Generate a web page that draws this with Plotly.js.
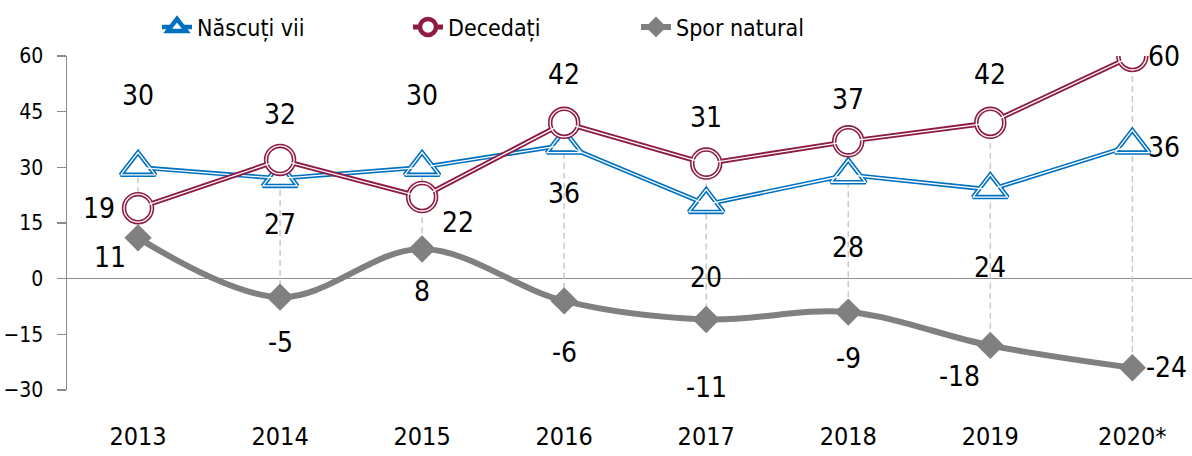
<!DOCTYPE html>
<html><head><meta charset="utf-8">
<script src="https://cdn.plot.ly/plotly-3.0.1.min.js"></script>
<style>html,body{margin:0;padding:0;background:#fff}#chart{width:1192px;height:456px}</style>
</head><body><div id="chart"></div>
<script>
// ---- data ----
const categories = ['2013','2014','2015','2016','2017','2018','2019','2020*'];
const nascuti = [30, 27, 30, 36, 20, 28, 24, 36];
const decedati = [19, 32, 22, 42, 31, 37, 42, 60];
const spor = [11, -5, 8, -6, -11, -9, -18, -24];
const yTickVals = [-30, -15, 0, 15, 30, 45, 60];
const seriesNames = ['Născuți vii', 'Decedați', 'Spor natural'];

// ---- styling ----
const FONT = '"DejaVu Sans Condensed", "Liberation Sans Narrow", "Roboto", sans-serif';
const BLUE = '#0070C0', RED = '#8E1B45', GRAY = '#808080';
// label offsets (pixels) per point
const offN = [[0,72],[0,-46],[0,72],[0,-48],[0,-73],[0,-73],[0,-78],[32,-2]];
const offD = [[-39,0],[0,45],[36,-25],[0,48],[0,46],[0,42],[0,48],[32,0]];
const offS = [[-28,-20],[0,-45],[0,-43],[0,-52],[0,-68],[0,-46],[-31,-31],[34,0]];

// high-low lines
const hlX = [], hlY = [];
categories.forEach((c, i) => {
  const v = [nascuti[i], decedati[i], spor[i]];
  hlX.push(c, c, null);
  hlY.push(Math.max(...v), Math.min(...v), null);
});

const traces = [
  {x: hlX, y: hlY, mode: 'lines', line: {color: '#c9c9c9', width: 1.5, dash: '6px,4px'}, showlegend: false, hoverinfo: 'skip'},
  // spor natural
  {x: categories, y: spor, name: seriesNames[2], legend: 'legend3', mode: 'lines+markers',
   line: {color: GRAY, width: 6, shape: 'spline', smoothing: 1},
   marker: {symbol: 'diamond', size: 21, color: GRAY}},
  // nascuti
  {x: categories, y: nascuti, name: seriesNames[0], legend: 'legend', mode: 'lines+markers', line: {color: BLUE, width: 4.5},
   marker: {symbol: 'triangle-up', size: 30, color: 'white', line: {color: BLUE, width: 4.5}}},
  {x: categories, y: nascuti, mode: 'lines+markers', line: {color: 'white', width: 1.3}, showlegend: false, hoverinfo: 'skip',
   marker: {symbol: 'triangle-up-open', size: 30, line: {color: 'white', width: 1.3}}},
  // decedati
  {x: categories, y: decedati, name: seriesNames[1], legend: 'legend2', mode: 'lines+markers', line: {color: RED, width: 5},
   marker: {symbol: 'circle', size: 28, color: 'white', line: {color: RED, width: 4.5}}},
  {x: categories, y: decedati, mode: 'lines+markers', line: {color: 'white', width: 1.3}, showlegend: false, hoverinfo: 'skip',
   marker: {symbol: 'circle-open', size: 28, line: {color: 'white', width: 1.3}}}
];

const annotations = [];
function addLabels(vals, offs) {
  vals.forEach((v, i) => annotations.push({
    x: i, y: v, xref: 'x', yref: 'y', text: String(v), showarrow: false,
    xshift: offs[i][0], yshift: offs[i][1], font: {family: FONT, size: 28, color: '#000'}
  }));
}
addLabels(nascuti, offN); addLabels(decedati, offD); addLabels(spor, offS);

function leg(xpx) {
  return {orientation: 'h', xref: 'container', yref: 'container', x: xpx / 1192, y: 0.988, xanchor: 'left', yanchor: 'top',
          font: {family: FONT, size: 23, color: '#000'}, bgcolor: 'rgba(0,0,0,0)'};
}

const layout = {
  width: 1192, height: 456,
  margin: {l: 67, r: 0, t: 56, b: 66},
  paper_bgcolor: 'white', plot_bgcolor: 'white',
  font: {family: FONT, color: '#000'},
  showlegend: true,
  legend: leg(157), legend2: leg(408), legend3: leg(636),
  xaxis: {type: 'category', range: [-0.5, 7.42], showgrid: false, showline: false, zeroline: false, ticks: '',
          tickfont: {family: FONT, size: 25, color: '#000'}, ticklabelstandoff: 29, fixedrange: true},
  yaxis: {range: [-30, 60], tickvals: yTickVals, showgrid: false, showline: true, linecolor: '#8c8c8c', linewidth: 1.5,
          ticks: 'outside', ticklen: 9, tickcolor: '#8c8c8c', tickwidth: 1.5,
          zeroline: true, zerolinecolor: '#8c8c8c', zerolinewidth: 1.5,
          tickfont: {family: FONT, size: 21, color: '#000'}, ticklabelstandoff: 9, fixedrange: true},
  annotations: annotations
};
Plotly.newPlot('chart', traces, layout, {displayModeBar: false, staticPlot: true});
</script></body></html>
